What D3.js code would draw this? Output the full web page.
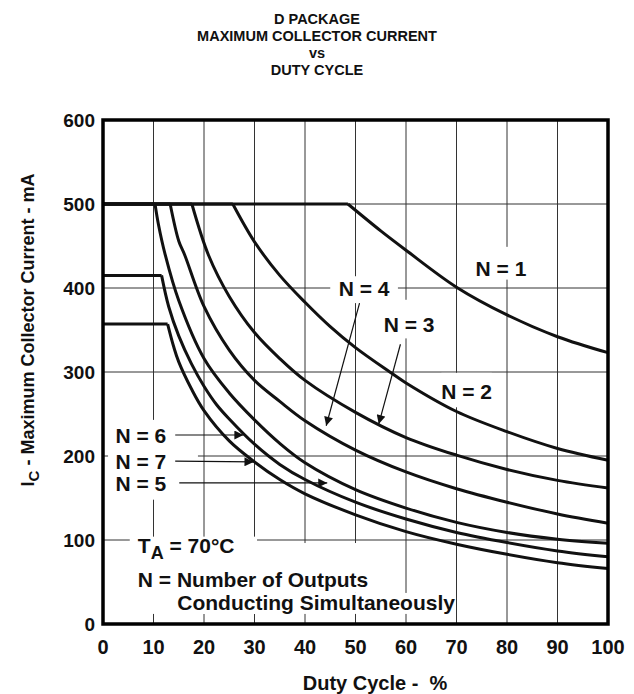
<!DOCTYPE html>
<html>
<head>
<meta charset="utf-8">
<script src="https://cdn.jsdelivr.net/npm/d3@7.9.0/dist/d3.min.js"></script>
<style>
  body { margin: 0; background: #fff; }
  svg text { font-family: "Liberation Sans", Arial, sans-serif; font-weight: bold; fill: #111; }
</style>
</head>
<body>
<svg id="chart" width="634" height="694"></svg>
<script>
// duty cycle (%) and max collector current (mA)
const n1 = [[0, 500], [48.5, 500], [55, 468], [60, 445], [70, 401], [80, 368], [90, 342], [100, 323]];
const n2 = [[0, 500], [25.7, 500], [30, 455], [35, 415], [40, 383], [45, 354], [50, 329], [56.8, 300], [60, 287], [70, 253], [80, 229], [90, 209], [100, 195]];
const n3 = [[0, 500], [17.6, 500], [20.9, 439], [25, 390], [30, 347], [35, 316], [40, 290], [50, 252], [60, 222], [70, 201], [80, 184], [90, 171], [100, 162]];
const n4 = [[0, 500], [13.3, 500], [15, 456], [16.2, 439], [20, 378], [25, 326], [30, 290], [35, 265], [40, 242], [50, 207], [60, 181], [70, 161], [80, 145], [90, 131], [100, 120]];
const n5 = [[0, 500], [10.3, 500], [11, 475], [12.3, 440], [15, 385], [20, 316], [25, 275], [30, 243], [35, 215], [40, 192], [50, 160], [60, 138], [70, 121], [80, 109], [90, 101], [100, 96]];
const n6 = [[0, 415], [11.6, 415], [13, 378], [15, 343], [17.5, 310], [20, 283], [22.5, 261], [25, 244], [30, 214], [35, 190], [40, 172], [50, 145], [60, 125], [70, 109], [80, 97], [90, 87], [100, 80]];
const n7 = [[0, 357], [12.8, 357], [14, 330], [15, 312], [17.5, 280], [20, 254], [25, 218], [30, 193], [35, 172], [40, 155], [50, 130], [60, 110], [70, 95], [80, 83], [90, 73], [100, 66]];
const curves = [n1, n2, n3, n4, n5, n6, n7];

const xTicks = [0, 10, 20, 30, 40, 50, 60, 70, 80, 90, 100];
const yTicks = [0, 100, 200, 300, 400, 500, 600];
const titleLines = ["D PACKAGE", "MAXIMUM COLLECTOR CURRENT", "vs", "DUTY CYCLE"];

// curve labels: text, centre (duty, mA), white box [x0, y0, x1, y1] in data units
const labels = [
  { text: "N = 1", at: [78.8, 423], box: [72.7, 410, 85, 449] },
  { text: "N = 2", at: [72, 277], box: [67, 258, 77, 299] },
  { text: "N = 3", at: [60.6, 357], box: [54, 340, 67.1, 386] },
  { text: "N = 4", at: [51.7, 399], box: [45, 382, 58.4, 414] },
  { text: "N = 6", at: [7.5, 224], box: [1, 148, 18.8, 243] },
  { text: "N = 7", at: [7.5, 194], box: null },
  { text: "N = 5", at: [7.5, 167], box: null }
];
// arrows: from (duty, mA) to tip (duty, mA)
const arrows = [
  { from: [50.8, 382], to: [44.2, 236] },
  { from: [58.9, 333], to: [54.6, 238] },
  { from: [14.3, 225], to: [27.8, 225] },
  { from: [14.3, 194], to: [29.8, 193] },
  { from: [15.1, 168], to: [44.4, 168] }
];

const svg = d3.select("#chart");
const x = d3.scaleLinear().domain([0, 100]).range([103, 608]);
const y = d3.scaleLinear().domain([0, 600]).range([624, 120]);

// title
svg.append("g").selectAll("text").data(titleLines).join("text")
  .attr("x", 317).attr("y", (d, i) => 24 + i * 17)
  .attr("text-anchor", "middle").attr("font-size", 14.5)
  .text(d => d);

// grid
const grid = svg.append("g").attr("stroke", "#333").attr("stroke-width", 1);
grid.selectAll(".gx").data(xTicks).join("line")
  .attr("x1", d => x(d)).attr("x2", d => x(d)).attr("y1", y(0)).attr("y2", y(600));
grid.selectAll(".gy").data(yTicks).join("line")
  .attr("y1", d => y(d)).attr("y2", d => y(d)).attr("x1", x(0)).attr("x2", x(100));

// white knock-out boxes behind annotation text
const boxes = labels.filter(d => d.box).map(d => d.box)
  .concat([[5.3, 12, 30.5, 104], [5.3, 37, 53.3, 96.4], [14.3, 12, 69.8, 37]]);
svg.append("g").selectAll("rect").data(boxes).join("rect")
  .attr("x", d => x(d[0])).attr("y", d => y(d[3]))
  .attr("width", d => x(d[2]) - x(d[0])).attr("height", d => y(d[1]) - y(d[3]))
  .attr("fill", "#fff");

// curves: flat limit, then the falling part
const flat = d3.line().x(d => x(d[0])).y(d => y(d[1]));
const fall = d3.line().x(d => x(d[0])).y(d => y(d[1])).curve(d3.curveCatmullRom.alpha(0.5));
const cg = svg.append("g").attr("fill", "none").attr("stroke", "#111")
  .attr("stroke-width", 3).attr("stroke-linejoin", "round");
cg.selectAll(".flat").data(curves).join("path").attr("d", d => flat(d.slice(0, 2)));
cg.selectAll(".fall").data(curves).join("path").attr("d", d => fall(d.slice(1)));

// arrows
svg.append("defs").append("marker")
  .attr("id", "head").attr("viewBox", "0 0 10 10").attr("refX", 10).attr("refY", 5)
  .attr("markerWidth", 11).attr("markerHeight", 9).attr("markerUnits", "userSpaceOnUse")
  .attr("orient", "auto")
  .append("path").attr("d", "M0,0L10,5L0,10Z").attr("fill", "#111");
svg.append("g").selectAll("line").data(arrows).join("line")
  .attr("x1", d => x(d.from[0])).attr("y1", d => y(d.from[1]))
  .attr("x2", d => x(d.to[0])).attr("y2", d => y(d.to[1]))
  .attr("stroke", "#111").attr("stroke-width", 1.2).attr("marker-end", "url(#head)");

// curve labels
svg.append("g").selectAll("text").data(labels).join("text")
  .attr("x", d => x(d.at[0])).attr("y", d => y(d.at[1]) + 7.5)
  .attr("text-anchor", "middle").attr("font-size", 21)
  .text(d => d.text);

// condition text
const note = svg.append("g").attr("font-size", 21);
const ta = note.append("text").attr("x", x(6.9)).attr("y", y(84.5));
ta.append("tspan").text("T");
ta.append("tspan").attr("font-size", 18).attr("dy", 6).text("A");
ta.append("tspan").attr("dy", -6).text(" = 70°C");
note.append("text").attr("x", x(6.9)).attr("y", y(44.6)).text("N = Number of Outputs");
note.append("text").attr("x", x(14.7)).attr("y", y(16.5)).text("Conducting Simultaneously");

// frame
svg.append("rect").attr("x", x(0)).attr("y", y(600))
  .attr("width", x(100) - x(0)).attr("height", y(0) - y(600))
  .attr("fill", "none").attr("stroke", "#000").attr("stroke-width", 3.5);

// tick labels
svg.append("g").selectAll("text").data(xTicks).join("text")
  .attr("x", d => x(d)).attr("y", 654).attr("text-anchor", "middle")
  .attr("font-size", 20).text(d => d);
svg.append("g").selectAll("text").data(yTicks).join("text")
  .attr("x", 95).attr("y", d => y(d) + 7).attr("text-anchor", "end")
  .attr("font-size", 19).text(d => d);

// axis titles
svg.append("text").attr("x", 375).attr("y", 690).attr("text-anchor", "middle")
  .attr("font-size", 20).attr("xml:space", "preserve").text("Duty Cycle -  %");
const yl = svg.append("text").attr("transform", "translate(34,330) rotate(-90)")
  .attr("text-anchor", "middle").attr("font-size", 18);
yl.append("tspan").text("I");
yl.append("tspan").attr("font-size", 15).attr("dy", 5).text("C");
yl.append("tspan").attr("dy", -5).attr("xml:space", "preserve").text(" - Maximum Collector Current - mA");
</script>
</body>
</html>
